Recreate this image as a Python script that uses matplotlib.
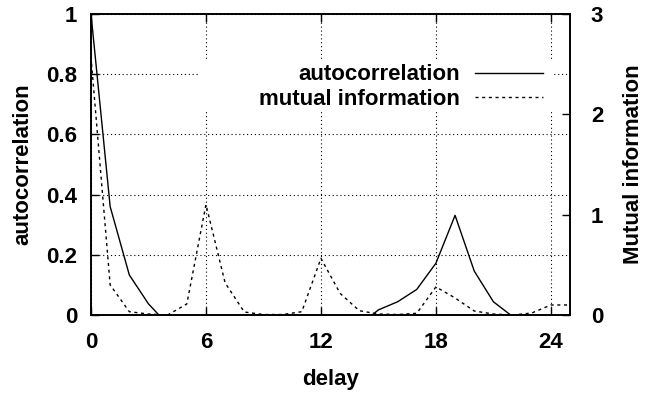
import numpy as np
import matplotlib
matplotlib.use('Agg')
from matplotlib import pyplot as plt
from matplotlib import rcParams
from matplotlib.patches import Rectangle
rcParams['font.family'] = ['Liberation Sans', 'DejaVu Sans']
rcParams['font.weight'] = 'bold'

# delay values and the two series
delay = list(range(0, 26))
autocorr = [1.0, 0.36, 0.133, 0.037, -0.031, -0.08, -0.12, -0.14, -0.15, -0.15,
            -0.14, -0.12, -0.10, -0.07, -0.033, 0.017, 0.044, 0.085, 0.172, 0.331,
            0.146, 0.044, -0.005, -0.05, -0.04, -0.02]
mutual = [2.57, 0.30, 0.033, 0.01, 0.0, 0.11, 1.10, 0.32, 0.03, 0.005,
          0.005, 0.033, 0.565, 0.216, 0.043, 0.01, 0.005, 0.017, 0.28, 0.17,
          0.04, 0.01, 0.0, 0.02, 0.10, 0.10]

x_ticks = [0, 6, 12, 18, 24]
left_ticks = [0, 0.2, 0.4, 0.6, 0.8, 1]
left_labels = ['0', '0.2', '0.4', '0.6', '0.8', '1']
right_ticks = [0, 1, 2, 3]

FS = 16

fig, ax = plt.subplots(figsize=(6.5, 3.97), dpi=100)
fig.subplots_adjust(left=0.14, right=0.877, top=0.965, bottom=0.2065)
ax2 = ax.twinx()

ax.plot(delay, autocorr, color='black', linewidth=1.0, label='autocorrelation')
ax2.plot(delay, mutual, color='black', linewidth=1.0, linestyle=(0, (2.2, 2.6)),
         label='mutual information')

ax.set_xlim(0, 25)
ax.set_ylim(0, 1)
ax2.set_ylim(0, 3)

ax.set_xticks(x_ticks)
ax.set_yticks(left_ticks)
ax.set_yticklabels(left_labels)
ax2.set_yticks(right_ticks)

ax.grid(True, color='black', linestyle=(0, (1, 2.5)), linewidth=0.8)
ax.set_axisbelow(True)

for a in (ax, ax2):
    a.tick_params(direction='in', length=6, width=1, labelsize=FS)
    for sp in a.spines.values():
        sp.set_linewidth(1.2)
ax.tick_params(top=True)
ax.tick_params(axis='x', pad=12)
ax.tick_params(axis='y', pad=10)
ax2.tick_params(axis='y', pad=15)

ax.set_xlabel('delay', fontsize=FS, fontweight='bold', labelpad=12)
ax.set_ylabel('autocorrelation', fontsize=FS, fontweight='bold', labelpad=9)
ax2.set_ylabel('Mutual information', fontsize=FS, fontweight='bold', labelpad=14)

# opaque key area (hides the grid behind the key, as in the original)
ax2.add_patch(Rectangle((0.227, 0.681), 0.74, 0.163, transform=ax2.transAxes,
                        facecolor='white', edgecolor='none', zorder=1))

h1, l1 = ax.get_legend_handles_labels()
h2, l2 = ax2.get_legend_handles_labels()
leg = ax2.legend(h1 + h2, l1 + l2, loc='upper right', bbox_to_anchor=(0.944, 0.832),
                 markerfirst=False, frameon=False,
                 prop={'size': FS, 'weight': 'bold'}, handlelength=3.06,
                 labelspacing=0.15, borderpad=0, borderaxespad=0, handletextpad=0.68)

fig.savefig('out.png', dpi=100)
